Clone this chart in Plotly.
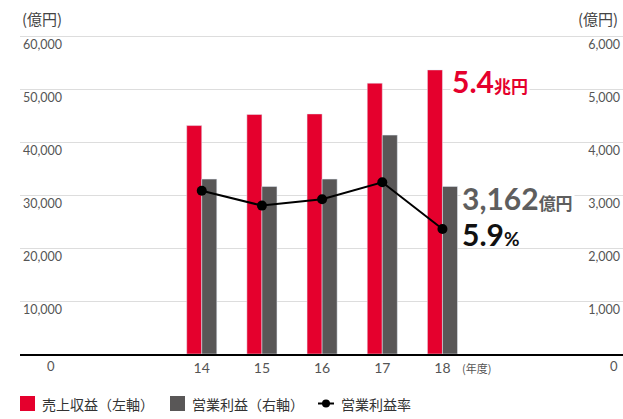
import plotly.graph_objects as go

# 年度
years = [14, 15, 16, 17, 18]
revenue = [43100, 45200, 45300, 51100, 53600]   # 売上収益（億円, 左軸）
op_income = [3300, 3160, 3300, 4130, 3162]      # 営業利益（億円, 右軸）
op_margin = [7.7, 7.0, 7.3, 8.1, 5.9]           # 営業利益率（%）

left_ticks = [10000, 20000, 30000, 40000, 50000, 60000]
right_ticks = [1000, 2000, 3000, 4000, 5000, 6000]

RED = "#e5002d"
GRAY = "#595757"
FONT = "Lato, 'Noto Sans CJK JP', sans-serif"
JP = "'Noto Sans CJK JP', sans-serif"

fig = go.Figure()
fig.add_trace(go.Bar(
    x=years, y=revenue, name="売上収益（左軸）", marker_color=RED,
    width=0.25, offset=-0.25, yaxis="y"
))
fig.add_trace(go.Bar(
    x=years, y=op_income, name="営業利益（右軸）", marker_color=GRAY,
    width=0.25, offset=0, yaxis="y2"
))
fig.add_trace(go.Scatter(
    x=years, y=op_margin, name="営業利益率", mode="lines+markers",
    line=dict(color="black", width=2), marker=dict(color="black", size=10),
    yaxis="y3"
))

# 上端のグリッド線が描かれるよう、範囲を少し広げる（60,000 は y=36px のまま）
H = 321
k = H / 318
fig.update_layout(
    width=623, height=419,
    margin=dict(l=20, r=0, t=354 - H, b=65, autoexpand=False),
    plot_bgcolor="white", paper_bgcolor="white",
    font=dict(family=FONT, color="#555"),
    showlegend=False,
    xaxis=dict(range=[10.98, 21], tickvals=years, ticktext=[str(y) for y in years],
               showgrid=False, zeroline=False, showline=True, linecolor="black",
               linewidth=1.5, ticks="", automargin=False,
               tickfont=dict(size=14, color="#555")),
    yaxis=dict(range=[0, 60000 * k], tickvals=left_ticks, tickformat=",",
               showgrid=True, gridcolor="#dddddd", gridwidth=1, zeroline=False,
               ticklabelposition="inside bottom", automargin=False,
               tickfont=dict(size=12.5, color="#555")),
    yaxis2=dict(range=[0, 6000 * k], tickvals=right_ticks, tickformat=",",
                overlaying="y", side="right", showgrid=False, zeroline=False,
                ticklabelposition="inside bottom", automargin=False,
                tickfont=dict(size=12.5, color="#555")),
    yaxis3=dict(range=[0, 15 * k], overlaying="y", visible=False),
)

def px_x(v):
    return (v - 20) / 603

def px_y(v):
    return (354 - v) / H

annos = [
    dict(text="(億円)", x=20, y=18, xanchor="left", font=dict(family=JP, size=15, color="#444")),
    dict(text="(億円)", x=620, y=18, xanchor="right", font=dict(family=JP, size=15, color="#444")),
    dict(text="0", x=51, y=366, xanchor="center", font=dict(size=13, color="#555")),
    dict(text="0", x=620, y=366, xanchor="right", font=dict(size=13, color="#555")),
    dict(text="(年度)", x=460, y=368, xanchor="left", font=dict(family=JP, size=11, color="#555")),
    dict(text="<b>5.4</b><b><span style='font-size:17px'>兆円</span></b>", x=450, y=81,
         xanchor="left", bgcolor="white", font=dict(size=30, color=RED)),
    dict(text="<b>3,162</b><b><span style='font-size:17px'>億円</span></b>", x=460, y=198,
         xanchor="left", bgcolor="white", font=dict(size=30, color="#5e5e5e")),
    dict(text="<b>5.9</b><b><span style='font-size:19px'>%</span></b>", x=460, y=234,
         xanchor="left", font=dict(size=30, color="#111")),
]

# 凡例（手描き）
legend_items = [
    ("売上収益（左軸）", RED, "bar", 20),
    ("営業利益（右軸）", GRAY, "bar", 170),
    ("営業利益率", "black", "line", 318),
]
for label, color, kind, lx in legend_items:
    if kind == "bar":
        fig.add_shape(type="rect", xref="paper", yref="paper",
                      x0=px_x(lx), x1=px_x(lx + 15), y0=px_y(411), y1=px_y(396),
                      fillcolor=color, line_width=0)
        tx = lx + 20
    else:
        fig.add_shape(type="line", xref="paper", yref="paper",
                      x0=px_x(lx), x1=px_x(lx + 16), y0=px_y(403.5), y1=px_y(403.5),
                      line=dict(color=color, width=2))
        fig.add_shape(type="circle", xref="paper", yref="paper",
                      x0=px_x(lx + 4), x1=px_x(lx + 12), y0=px_y(407.5), y1=px_y(399.5),
                      fillcolor=color, line_width=0)
        tx = lx + 21
    annos.append(dict(text=label, x=tx, y=403.5, xanchor="left",
                      font=dict(family=JP, size=14, color="#333")))

for a in annos:
    fig.add_annotation(xref="paper", yref="paper", showarrow=False, yanchor="middle",
                       x=px_x(a.pop("x")), y=px_y(a.pop("y")), **a)

# ページ余白を消して 623x419 にぴったり合わせる
fig.write_html("out.html", config={"displayModeBar": False},
               post_script="document.body.style.margin='0';")
